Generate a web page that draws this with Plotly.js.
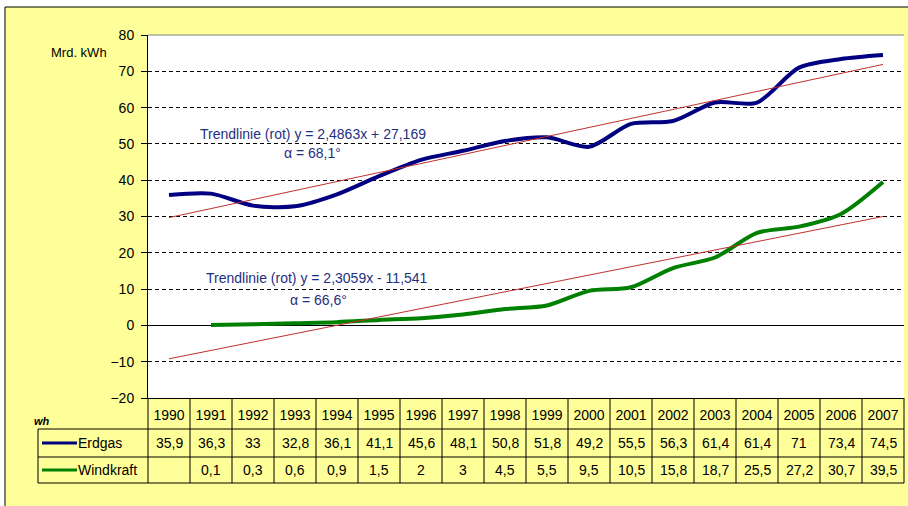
<!DOCTYPE html>
<html>
<head>
<meta charset="utf-8">
<script src="https://cdn.plot.ly/plotly-3.0.1.min.js"></script>
<style>html,body{margin:0;padding:0;background:#fff;}#chart{width:908px;height:506px;}</style>
</head>
<body>
<div id="chart"></div>
<script>
// ---- data ----
var years = ['1990','1991','1992','1993','1994','1995','1996','1997','1998','1999','2000','2001','2002','2003','2004','2005','2006','2007'];
var erdgas = [35.9,36.3,33,32.8,36.1,41.1,45.6,48.1,50.8,51.8,49.2,55.5,56.3,61.4,61.4,71,73.4,74.5];
var windkraft = [null,0.1,0.3,0.6,0.9,1.5,2,3,4.5,5.5,9.5,10.5,15.8,18.7,25.5,27.2,30.7,39.5];
var trendYears = ['1990','2007'];
var trendErdgas = [29.7,71.9];
var trendWind = [-9.2,30.0];
var seriesNames = ['Erdgas','Windkraft'];
var yUnit = 'Mrd. kWh';
var cornerLabel = 'wh';
var trendTexts = ['Trendlinie (rot) y = 2,4863x + 27,169','α = 68,1°','Trendlinie (rot) y = 2,3059x - 11,541','α = 66,6°'];

// ---- styling ----
var FONT = 'Arial, "Liberation Sans", sans-serif';
var YELLOW = '#FFFF99';
var NAVY = '#000080';
var GREEN = '#008000';
var TREND = '#C03030';
var TXTBLUE = '#1F2F7F';
var L = 148, R = 904, T = 35, B = 398;
function PX(x){ return (x - L) / (R - L); }
function PY(y){ return (B - y) / (B - T); }
function fmt(v){ return v === null ? '' : String(v).replace('.', ','); }

var traces = [
  {x: years, y: erdgas, name: seriesNames[0], type: 'scatter', mode: 'lines',
   line: {color: NAVY, width: 4, shape: 'spline', smoothing: 0.8}},
  {x: years, y: windkraft, name: seriesNames[1], type: 'scatter', mode: 'lines',
   line: {color: GREEN, width: 4, shape: 'spline', smoothing: 0.8}},
  {x: trendYears, y: trendErdgas, type: 'scatter', mode: 'lines',
   line: {color: TREND, width: 1}},
  {x: trendYears, y: trendWind, type: 'scatter', mode: 'lines',
   line: {color: TREND, width: 1}}
];

var shapes = [
  // white page margins and chart border
  {type:'rect', xref:'paper', yref:'paper', x0:PX(0), x1:PX(910), y0:PY(0), y1:PY(7), fillcolor:'#fff', line:{width:0}},
  {type:'rect', xref:'paper', yref:'paper', x0:PX(0), x1:PX(5), y0:PY(0), y1:PY(510), fillcolor:'#fff', line:{width:0}},
  {type:'line', xref:'paper', yref:'paper', x0:PX(5), x1:PX(910), y0:PY(7), y1:PY(7), line:{color:'#000', width:1}},
  {type:'line', xref:'paper', yref:'paper', x0:PX(5), x1:PX(5), y0:PY(7), y1:PY(510), line:{color:'#000', width:1}},
  // top border of plot area
  {type:'line', xref:'paper', yref:'paper', x0:0, x1:1, y0:1, y1:1, line:{color:'#808080', width:1}},
  // table outer verticals
  {type:'line', xref:'paper', yref:'paper', x0:0, x1:0, y0:0, y1:PY(483), line:{color:'#000', width:1}},
  {type:'line', xref:'paper', yref:'paper', x0:1, x1:1, y0:0, y1:PY(483), line:{color:'#000', width:1}},
  {type:'line', xref:'paper', yref:'paper', x0:PX(38), x1:PX(38), y0:PY(429), y1:PY(483), line:{color:'#000', width:1}}
];
[429, 457, 483].forEach(function(y){
  shapes.push({type:'line', xref:'paper', yref:'paper', x0:PX(38), x1:1, y0:PY(y), y1:PY(y), line:{color:'#000', width:1}});
});
for (var i = 0; i < years.length - 1; i++) {
  shapes.push({type:'line', xref:'x', yref:'paper', x0:i+0.5, x1:i+0.5, y0:0, y1:PY(483), line:{color:'#000', width:1}});
}
// legend keys in the table
shapes.push({type:'line', xref:'paper', yref:'paper', x0:PX(42), x1:PX(77), y0:PY(443), y1:PY(443), line:{color:NAVY, width:3}});
shapes.push({type:'line', xref:'paper', yref:'paper', x0:PX(42), x1:PX(77), y0:PY(470), y1:PY(470), line:{color:GREEN, width:3}});

var annotations = [];
years.forEach(function(yr, k){
  annotations.push({x: k, xref:'x', yref:'paper', y: PY(443), xanchor:'center', yanchor:'middle', text: fmt(erdgas[k]), showarrow:false,
    font:{family:FONT, size:14, color:'#000'}});
  annotations.push({x: k, xref:'x', yref:'paper', y: PY(470), xanchor:'center', yanchor:'middle', text: fmt(windkraft[k]), showarrow:false,
    font:{family:FONT, size:14, color:'#000'}});
});
annotations.push({xref:'paper', yref:'paper', x:PX(76), y:PY(443), xanchor:'left', yanchor:'middle', text:seriesNames[0], showarrow:false, font:{family:FONT, size:14, color:'#000'}});
annotations.push({xref:'paper', yref:'paper', x:PX(76), y:PY(470), xanchor:'left', yanchor:'middle', text:seriesNames[1], showarrow:false, font:{family:FONT, size:14, color:'#000'}});
annotations.push({xref:'paper', yref:'paper', x:PX(109), y:PY(53), xanchor:'right', yanchor:'middle', text:yUnit, showarrow:false, font:{family:FONT, size:13, color:'#000'}});
annotations.push({xref:'paper', yref:'paper', x:PX(32), y:PY(421), xanchor:'left', yanchor:'middle', text:'<b><i>'+cornerLabel+'</i></b>', showarrow:false, font:{family:FONT, size:11, color:'#000'}});
annotations.push({xref:'x', yref:'y', x:3.42, y:52.7, xanchor:'center', yanchor:'middle', text:trendTexts[0], showarrow:false, font:{family:FONT, size:14, color:TXTBLUE}});
annotations.push({xref:'x', yref:'y', x:3.42, y:47.4, xanchor:'center', yanchor:'middle', text:trendTexts[1], showarrow:false, font:{family:FONT, size:14, color:TXTBLUE}});
annotations.push({xref:'x', yref:'y', x:3.52, y:13.1, xanchor:'center', yanchor:'middle', text:trendTexts[2], showarrow:false, font:{family:FONT, size:14, color:TXTBLUE}});
annotations.push({xref:'x', yref:'y', x:3.55, y:7.0, xanchor:'center', yanchor:'middle', text:trendTexts[3], showarrow:false, font:{family:FONT, size:14, color:TXTBLUE}});

var layout = {
  width: 908, height: 506, autosize: false,
  margin: {l: L, r: 908 - R, t: T, b: 506 - B, pad: 0},
  paper_bgcolor: YELLOW, plot_bgcolor: '#fff',
  showlegend: false,
  font: {family: FONT, size: 14, color: '#000'},
  xaxis: {type:'category', categoryorder:'array', categoryarray: years, range:[-0.5, 17.5],
    showgrid:false, zeroline:false, showline:true, linecolor:'#000', linewidth:1,
    ticks:'', ticklabelstandoff: 4, tickfont:{family:FONT, size:14, color:'#000'}, fixedrange:true},
  yaxis: {range:[-20, 80], dtick:10, tick0:0, showgrid:true, gridcolor:'#000', gridwidth:1, griddash:'4px,3px',
    zeroline:true, zerolinecolor:'#000', zerolinewidth:1,
    showline:true, linecolor:'#000', linewidth:1, ticks:'outside', ticklen:6, tickcolor:'#000',
    ticklabelstandoff: 4, tickfont:{family:FONT, size:14, color:'#000'}, fixedrange:true},
  shapes: shapes,
  annotations: annotations
};

Plotly.newPlot('chart', traces, layout, {displayModeBar:false, staticPlot:true});
</script>
</body>
</html>
